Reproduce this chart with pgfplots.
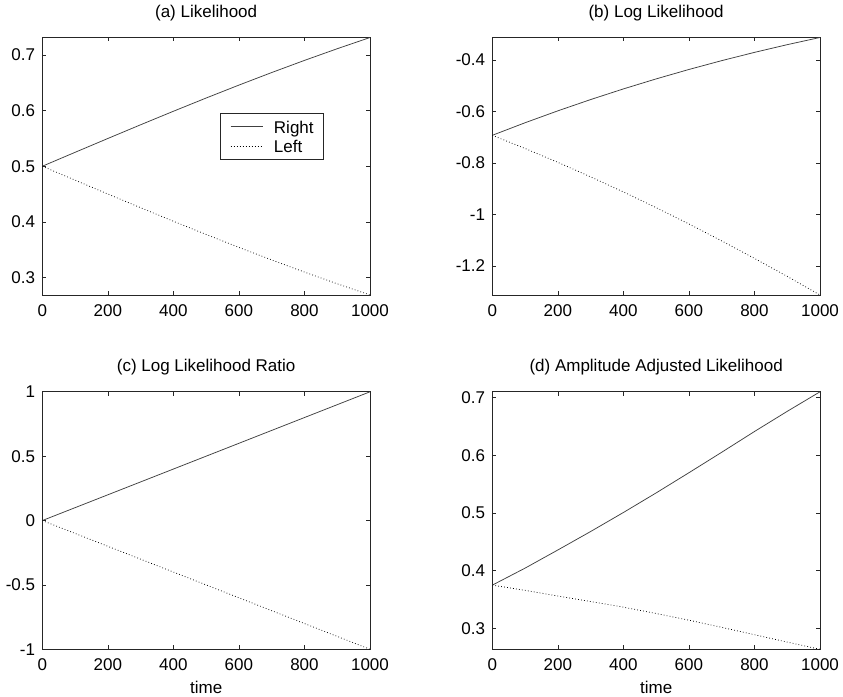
\documentclass[border=0pt]{standalone}
\usepackage{fontspec}
\setmainfont{Liberation Sans}
\usepackage{pgfplots}
\pgfplotsset{compat=1.18}
\newcommand{\fs}{\fontsize{17bp}{20bp}\selectfont}

\pgfplotsset{
  panel/.style={
    scale only axis, width=327.7bp, height=257.5bp,
    anchor=south west,
    xmin=0, xmax=1000, xtick={0,200,...,1000},
    tick align=inside, major tick length=4bp,
    axis line style={line width=0.6bp, black!85},
    every tick/.style={black!85, line width=0.6bp},
    tick label style={font=\fs},
    /pgf/number format/assume math mode=true,
    /pgf/number format/1000 sep={},
    title style={font=\fs, at={(0.5,1)}, anchor=base, yshift=14.5bp},
    xticklabel style={anchor=base, yshift=-21.5bp},
    yticklabel style={anchor=east, inner sep=0pt, xshift=-7bp},
    xlabel style={font=\fs, at={(0.5,0)}, anchor=base, yshift=-44bp},
  },
  rline/.style={black!75, line width=0.75bp},
  lline/.style={black, line width=0.75bp, dash pattern=on 0.75bp off 2.25bp},
}

\begin{document}
\begin{tikzpicture}
\useasboundingbox (0,0) rectangle (843bp,697bp);

% (a) likelihood
\begin{axis}[panel, at={(42.3bp,402bp)},
    title={(a) Likelihood},
    ymin=0.2689, ymax=0.7311, ytick={0.3,0.4,0.5,0.6,0.7},
    legend style={at={(0.542,0.706)}, anchor=north west, draw=black!85,
      line width=0.6bp, fill=white, inner xsep=10bp, inner ysep=7bp,
      row sep=7bp, nodes={inner sep=0pt, text height=12.5bp, text depth=0bp, font=\fs},
      /tikz/every odd column/.append style={column sep=11bp}},
    legend cell align=left,
    legend image code/.code={\draw[#1] (0bp,0bp) -- (32bp,0bp);},
  ]
\addplot[rline] coordinates {
  (0,0.5) (100,0.52498) (200,0.54983) (300,0.57444) (400,0.59869) (500,0.62246)
  (600,0.64566) (700,0.66819) (800,0.68997) (900,0.71095) (1000,0.73106)};
\addlegendentry{Right}
\addplot[lline] coordinates {
  (0,0.5) (100,0.47502) (200,0.45017) (300,0.42556) (400,0.40131) (500,0.37754)
  (600,0.35434) (700,0.33181) (800,0.31003) (900,0.28905) (1000,0.26894)};
\addlegendentry{Left}
\end{axis}

% (b) log likelihood
\begin{axis}[panel, at={(492.3bp,402bp)},
    title={(b) Log Likelihood},
    ymin=-1.3133, ymax=-0.3133, ytick={-1.2,-1,-0.8,-0.6,-0.4},
  ]
\addplot[rline] coordinates {
  (0,-0.69315) (100,-0.64439) (200,-0.59815) (300,-0.55436) (400,-0.51301) (500,-0.47408)
  (600,-0.43749) (700,-0.40319) (800,-0.37111) (900,-0.34115) (1000,-0.31326)};
\addplot[lline] coordinates {
  (0,-0.69315) (100,-0.74439) (200,-0.79815) (300,-0.85436) (400,-0.91301) (500,-0.97408)
  (600,-1.03749) (700,-1.10319) (800,-1.17111) (900,-1.24115) (1000,-1.31326)};
\end{axis}

% (c) log likelihood ratio
\begin{axis}[panel, at={(42.3bp,47.7bp)},
    title={(c) Log Likelihood Ratio}, xlabel={time},
    ymin=-1, ymax=1, ytick={-1,-0.5,0,0.5,1},
  ]
\addplot[rline] coordinates {
  (0,0) (100,0.1) (200,0.2) (300,0.3) (400,0.4) (500,0.5)
  (600,0.6) (700,0.7) (800,0.8) (900,0.9) (1000,1)};
\addplot[lline] coordinates {
  (0,0) (100,-0.1) (200,-0.2) (300,-0.3) (400,-0.4) (500,-0.5)
  (600,-0.6) (700,-0.7) (800,-0.8) (900,-0.9) (1000,-1)};
\end{axis}

% (d) amplitude adjusted likelihood
\begin{axis}[panel, at={(492.3bp,47.7bp)},
    title={(d) Amplitude Adjusted Likelihood}, xlabel={time},
    ymin=0.2637, ymax=0.7104, ytick={0.3,0.4,0.5,0.6,0.7},
  ]
\addplot[rline] coordinates {
  (0,0.375) (100,0.4045) (200,0.4360) (300,0.4680) (400,0.5010) (500,0.5350)
  (600,0.5700) (700,0.6055) (800,0.6415) (900,0.6765) (1000,0.7104)};
\addplot[lline] coordinates {
  (0,0.375) (100,0.3660) (200,0.3562) (300,0.3465) (400,0.3368) (500,0.3258)
  (600,0.3142) (700,0.3018) (800,0.2890) (900,0.2762) (1000,0.2637)};
\end{axis}
\end{tikzpicture}
\end{document}
